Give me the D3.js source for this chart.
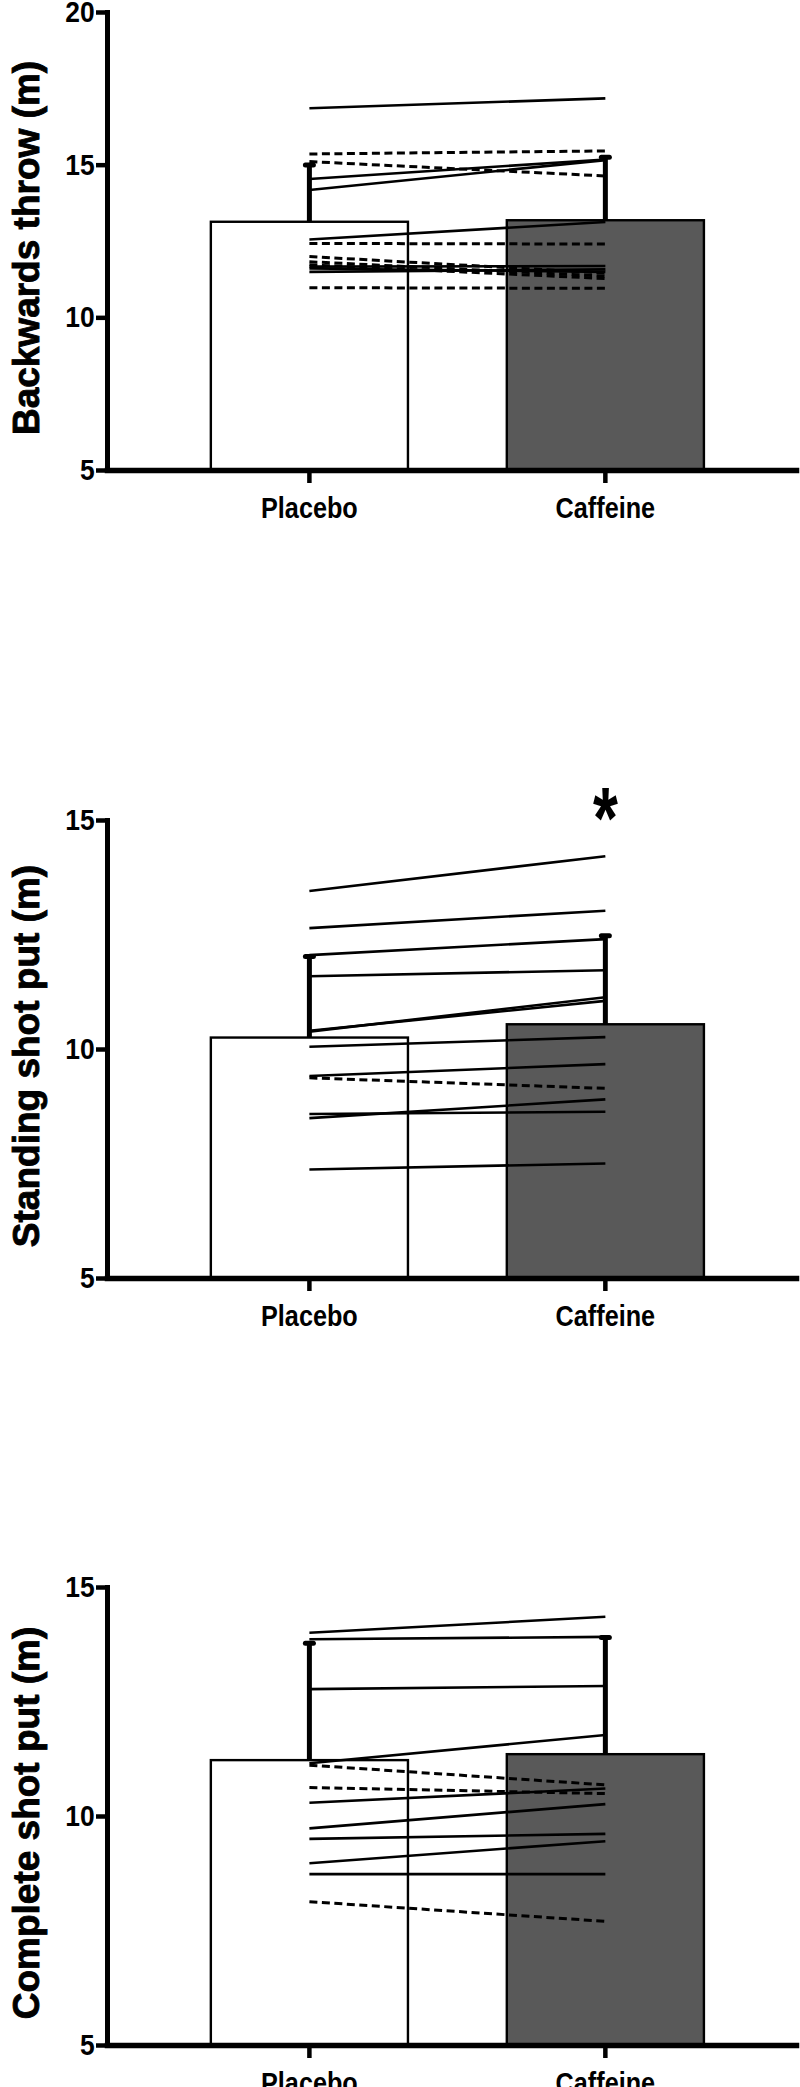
<!DOCTYPE html>
<meta charset="utf-8">
<script src="https://d3js.org/d3.v7.min.js"></script>
<style>
  body { margin: 0; background: #fff; }
  text { font-family: "Liberation Sans", Arial, sans-serif; font-weight: bold; }
</style>
<div id="my_dataviz"></div>
<script>

// conditions on the x axis
var conditions = ["Placebo", "Caffeine"];

// Backwards throw (m)
var throwMeans = [13.13, 13.18];
var throwSdTop = [14.99, 15.24];
var throwPlacebo = [16.85, 15.35, 15.10, 14.53, 14.17, 12.55, 12.42, 11.99, 11.82, 11.72, 11.66, 11.60, 11.49, 10.97];
var throwCaffeine = [17.17, 15.45, 14.63, 15.17, 15.15, 13.12, 12.40, 11.45, 11.35, 11.27, 11.68, 11.49, 11.57, 10.95];
var throwDashed = [false, true, true, false, false, false, true, true, true, true, false, false, false, true];

// Standing shot put (m)
var standMeans = [10.25, 10.54];
var standSdTop = [12.02, 12.47];
var standPlacebo = [13.45, 12.64, 12.05, 11.59, 10.38, 10.40, 10.05, 9.41, 9.37, 8.58, 8.49, 7.37];
var standCaffeine = [14.21, 13.02, 12.40, 11.72, 11.13, 11.05, 10.26, 9.67, 9.14, 8.63, 8.90, 7.50];
var standDashed = [false, false, false, false, false, false, false, false, true, false, false, false];

// Complete shot put (m)
var compMeans = [11.22, 11.35];
var compSdTop = [13.77, 13.90];
var compPlacebo = [14.00, 13.86, 12.77, 11.15, 11.11, 10.62, 10.29, 9.73, 9.50, 8.97, 8.73, 8.13];
var compCaffeine = [14.35, 13.91, 12.84, 11.77, 10.68, 10.49, 10.60, 10.26, 9.61, 9.45, 8.73, 7.70];
var compDashed = [false, false, false, false, true, true, false, false, false, false, false, true];

var panels = [
  {label: "Backwards throw (m)", domain: [5, 20], ticks: [5, 10, 15, 20], means: throwMeans, sdTop: throwSdTop, pla: throwPlacebo, caf: throwCaffeine, dashed: throwDashed, star: false},
  {label: "Standing shot put (m)", domain: [5, 15], ticks: [5, 10, 15], means: standMeans, sdTop: standSdTop, pla: standPlacebo, caf: standCaffeine, dashed: standDashed, star: true},
  {label: "Complete shot put (m)", domain: [5, 15], ticks: [5, 10, 15], means: compMeans, sdTop: compSdTop, pla: compPlacebo, caf: compCaffeine, dashed: compDashed, star: false}
];

// layout
var width = 800, height = 2087;
var plotLeft = 107, plotRight = 796, plotH = 458;
var panelTops = [12, 820, 1587];

var svg = d3.select("#my_dataviz")
  .append("svg")
    .attr("width", width)
    .attr("height", height);

panels.forEach(function(p, i) {
  var g = svg.append("g")
    .attr("transform", "translate(0," + panelTops[i] + ")");

  var x = d3.scaleBand()
    .domain(conditions)
    .range([plotLeft, plotRight])
    .paddingInner(0.334)
    .paddingOuter(0.331)
    .align(0.53);
  var y = d3.scaleLinear()
    .domain(p.domain)
    .range([plotH, 0]);
  var cx = function(c) { return x(c) + x.bandwidth() / 2; };

  // bars
  g.selectAll(".bar")
    .data(p.means)
    .enter()
    .append("rect")
      .attr("class", "bar")
      .attr("x", function(d, j) { return x(conditions[j]); })
      .attr("y", function(d) { return y(d); })
      .attr("width", x.bandwidth())
      .attr("height", function(d) { return plotH - y(d); })
      .style("fill", function(d, j) { return j ? "#595959" : "#ffffff"; })
      .style("stroke", "#000")
      .style("stroke-width", 2.4);

  // individual participants
  g.selectAll(".indiv")
    .data(p.pla)
    .enter()
    .append("line")
      .attr("class", "indiv")
      .attr("x1", cx(conditions[0]))
      .attr("x2", cx(conditions[1]))
      .attr("y1", function(d) { return y(d); })
      .attr("y2", function(d, j) { return y(p.caf[j]); })
      .style("stroke", "#000")
      .style("stroke-width", function(d, j) { return p.dashed[j] ? 3 : 2.6; })
      .style("stroke-dasharray", function(d, j) { return p.dashed[j] ? "8,4.5" : null; });

  // error bars (upper SD only)
  g.selectAll(".err")
    .data(p.means)
    .enter()
    .append("line")
      .attr("class", "err")
      .attr("x1", function(d, j) { return cx(conditions[j]); })
      .attr("x2", function(d, j) { return cx(conditions[j]); })
      .attr("y1", function(d) { return y(d); })
      .attr("y2", function(d, j) { return y(p.sdTop[j]); })
      .style("stroke", "#000")
      .style("stroke-width", 5);
  g.selectAll(".cap")
    .data(p.sdTop)
    .enter()
    .append("line")
      .attr("class", "cap")
      .attr("x1", function(d, j) { return cx(conditions[j]) - 4; })
      .attr("x2", function(d, j) { return cx(conditions[j]) + 4; })
      .attr("y1", function(d) { return y(d); })
      .attr("y2", function(d) { return y(d); })
      .style("stroke", "#000")
      .style("stroke-width", 5)
      .style("stroke-linecap", "round");

  // Y axis
  var yAx = g.append("g")
    .attr("transform", "translate(" + plotLeft + ",0)")
    .call(d3.axisLeft(y).tickValues(p.ticks).tickSize(11).tickSizeOuter(0).tickPadding(3).tickFormat(d3.format("d")));
  yAx.select(".domain").style("stroke-width", 5).style("stroke-linecap", "square");
  yAx.selectAll(".tick line").style("stroke-width", 4.5);
  yAx.selectAll(".tick text")
    .attr("transform", "scale(0.88,1)")
    .style("font-size", "30px")
    .style("font-family", "'Liberation Sans', Arial, sans-serif")
    .style("font-weight", "bold")
    .attr("fill", "#000");

  // X axis
  var xAx = g.append("g")
    .attr("transform", "translate(0," + plotH + ")")
    .call(d3.axisBottom(x).tickSize(13).tickSizeOuter(0).tickPadding(14));
  xAx.select(".domain").style("stroke-width", 5.5).style("stroke-linecap", "square");
  xAx.selectAll(".tick line").style("stroke-width", 4.5);
  xAx.selectAll(".tick text")
    .attr("transform", "scale(0.87,1)")
    .style("font-size", "29px")
    .style("font-family", "'Liberation Sans', Arial, sans-serif")
    .style("font-weight", "bold")
    .attr("fill", "#000");

  // Y label
  g.append("text")
    .attr("transform", "translate(26," + (plotH / 2 + 7) + ") rotate(-90)")
    .attr("text-anchor", "middle")
    .attr("dy", "0.35em")
    .style("font-size", "37px")
    .style("stroke", "#000")
    .style("stroke-width", 0.9)
    .text(p.label);

  // significance marker
  if (p.star) {
    g.append("text")
      .attr("transform", "translate(" + cx(conditions[1]) + "," + (y(p.domain[1]) + 28) + ") scale(1,1.35)")
      .attr("text-anchor", "middle")
      .style("font-size", "64px")
      .text("*");
  }
});

</script>
